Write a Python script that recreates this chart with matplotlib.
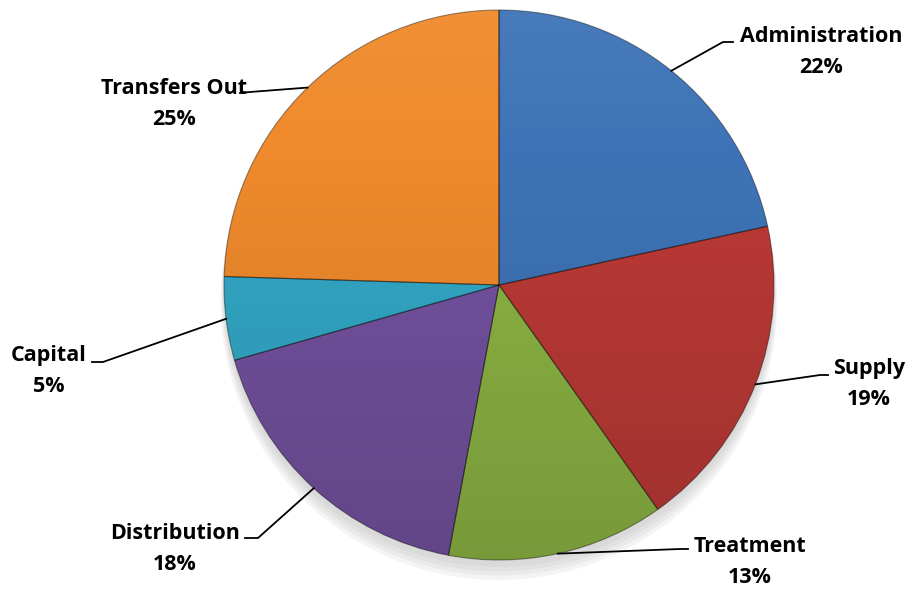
import numpy as np
import matplotlib.pyplot as plt
from matplotlib.colors import to_rgb
from matplotlib.patches import Circle

plt.rcParams['font.family'] = ['Open Sans', 'DejaVu Sans']

categorias = ['Administration', 'Supply', 'Treatment', 'Distribution', 'Capital', 'Transfers Out']
percentuais = [22, 19, 13, 18, 5, 25]
cores = ['#3E74B7', '#BC3A36', '#8DB544', '#7452A0', '#33A9C8', '#F08A2C']

# centro dos blocos de texto (px) e cotovelo/fim da linha guia (px)
pos_texto = [(821, 52), (869, 384), (750, 562), (175, 549), (49, 371), (174, 104)]
cotovelo = [(723, 42), (820, 375), (680, 549), (258, 538), (103, 362), (250, 92)]
fim_linha = [(733, 42), (828, 375), (688, 549), (245, 538), (92, 362), (240, 93)]

W, H = 913, 589
CX, CY, R = 499, 285, 275


def px2d(p):
    return ((p[0] - CX) / R, (CY - p[1]) / R)


def clarear(c, f):
    c = np.array(to_rgb(c))
    return c + (1 - c) * f if f > 0 else c * (1 + f)


fig = plt.figure(figsize=(W / 100, H / 100), dpi=100)
ax = fig.add_axes([(CX - R) / W, (H - CY - R) / H, 2 * R / W, 2 * R / H])

# sombra suave embaixo
for i, a in enumerate([0.03, 0.035, 0.04, 0.045]):
    ax.add_patch(Circle((0.0, -0.025 - 0.012 * i), 1.0 + 0.004 * i, color='black', alpha=a,
                        lw=0, zorder=0, clip_on=False))

fatias, _ = ax.pie(percentuais, colors=cores, startangle=90, counterclock=False,
                   radius=1.0, wedgeprops=dict(linewidth=0.8, edgecolor='#00000066'))

# gradiente vertical em cada fatia (um pouco mais claro em cima)
yy = np.linspace(1, -1, 300)
for w, c in zip(fatias, cores):
    grad = np.array([clarear(c, 0.05 - 0.20 * (1 - y) / 2) for y in yy])
    img = np.repeat(grad[:, None, :], 2, axis=1)
    im = ax.imshow(img, extent=[-1, 1, -1, 1], aspect='auto', zorder=w.get_zorder() + 0.1)
    im.set_clip_path(w)
    w.set_facecolor('none')
    w.set_zorder(w.get_zorder() + 0.2)

for w, cat, pct, pt, cv, fl in zip(fatias, categorias, percentuais, pos_texto, cotovelo, fim_linha):
    ang = np.deg2rad((w.theta1 + w.theta2) / 2)
    x0, y0 = np.cos(ang), np.sin(ang)
    x1, y1 = px2d(cv)
    x2, y2 = px2d(fl)
    ax.plot([x0, x1, x2], [y0, y1, y2], color='black', lw=1.3, zorder=5, clip_on=False)
    tx, ty = px2d(pt)
    ax.text(tx, ty, f'{cat}\n{pct}%', ha='center', va='center', fontsize=15.5,
            fontweight='bold', linespacing=1.6, zorder=6)

ax.set_xlim(-1, 1)
ax.set_ylim(-1, 1)
ax.set_aspect('equal')
ax.axis('off')

fig.savefig('out.png', dpi=100)
